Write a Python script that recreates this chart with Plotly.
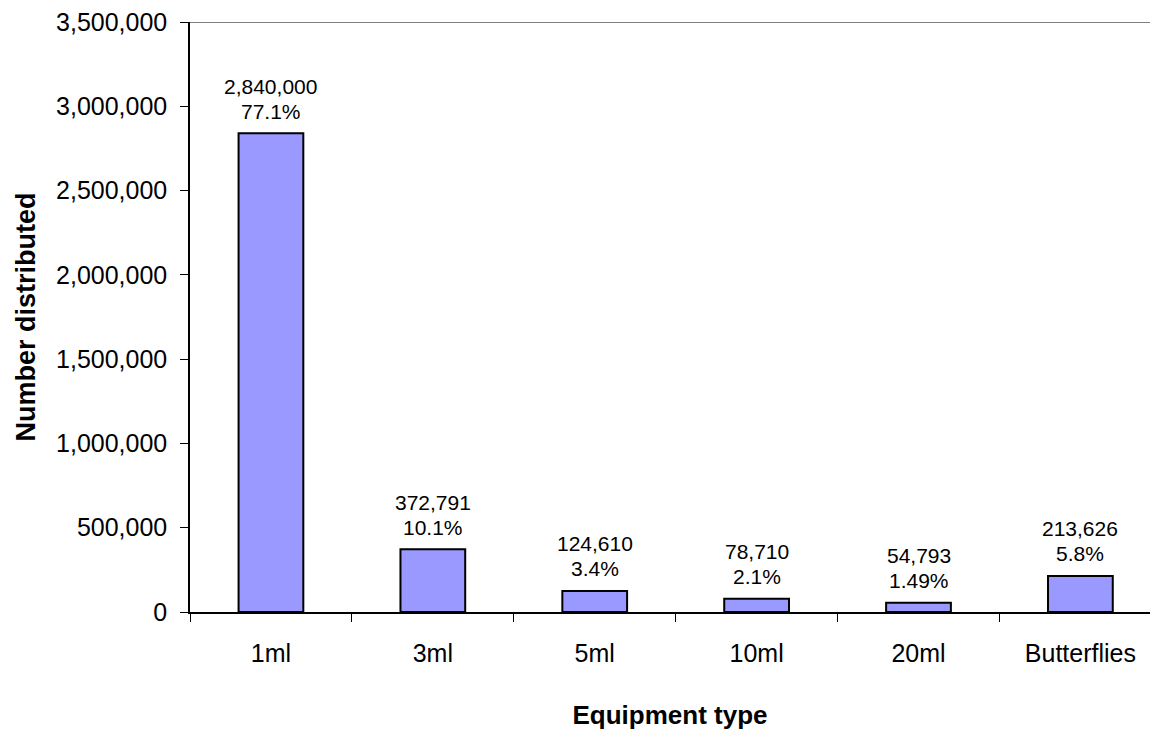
import plotly.graph_objects as go

categories = ["1ml", "3ml", "5ml", "10ml", "20ml", "Butterflies"]
counts = [2840000, 372791, 124610, 78710, 54793, 213626]
shares = ["77.1%", "10.1%", "3.4%", "2.1%", "1.49%", "5.8%"]
y_ticks = [0, 500000, 1000000, 1500000, 2000000, 2500000, 3000000, 3500000]

FONT = "Liberation Sans, Arial, sans-serif"

fig = go.Figure()
fig.add_trace(go.Bar(
    x=categories,
    y=counts,
    width=0.4,
    marker=dict(color="#9999FF", line=dict(color="black", width=2)),
    hoverinfo="x+y",
))

# two-line value labels: count on top, share underneath
for cat, val, pct in zip(categories, counts, shares):
    fig.add_annotation(
        x=cat, y=val, text=f"{val:,}",
        showarrow=False, yanchor="middle", yshift=47,
        font=dict(family=FONT, size=21, color="black"),
    )
    fig.add_annotation(
        x=cat, y=val, text=pct,
        showarrow=False, yanchor="middle", yshift=22,
        font=dict(family=FONT, size=21, color="black"),
    )

# plot-area top border
fig.add_shape(type="line", xref="paper", yref="y", x0=0, x1=1,
              y0=3500000, y1=3500000, line=dict(color="#808080", width=2))

fig.update_layout(
    width=1150, height=735,
    margin=dict(l=190, r=0, t=22, b=123),
    plot_bgcolor="white", paper_bgcolor="white",
    font=dict(family=FONT, size=25, color="black"),
    showlegend=False,
    bargap=0.6,
    xaxis=dict(
        range=[-0.5, 5.43],
        showline=True, linecolor="black", linewidth=1.5,
        ticks="outside", tickson="boundaries", ticklen=8, tickcolor="black",
        tickfont=dict(size=25),
        ticklabelstandoff=18,
        showgrid=False,
        title=dict(text="<b>Equipment type</b>", font=dict(size=26), standoff=40),
    ),
    yaxis=dict(
        range=[0, 3500000],
        tickvals=y_ticks,
        tickformat=",d",
        showline=True, linecolor="black", linewidth=1.5,
        ticks="outside", ticklen=8, tickcolor="black",
        tickfont=dict(size=25),
        ticklabelstandoff=8,
        showgrid=False, zeroline=False,
        title=dict(text="<b>Number distributed</b>", font=dict(size=27), standoff=13),
    ),
)

fig.write_html("out.html")
